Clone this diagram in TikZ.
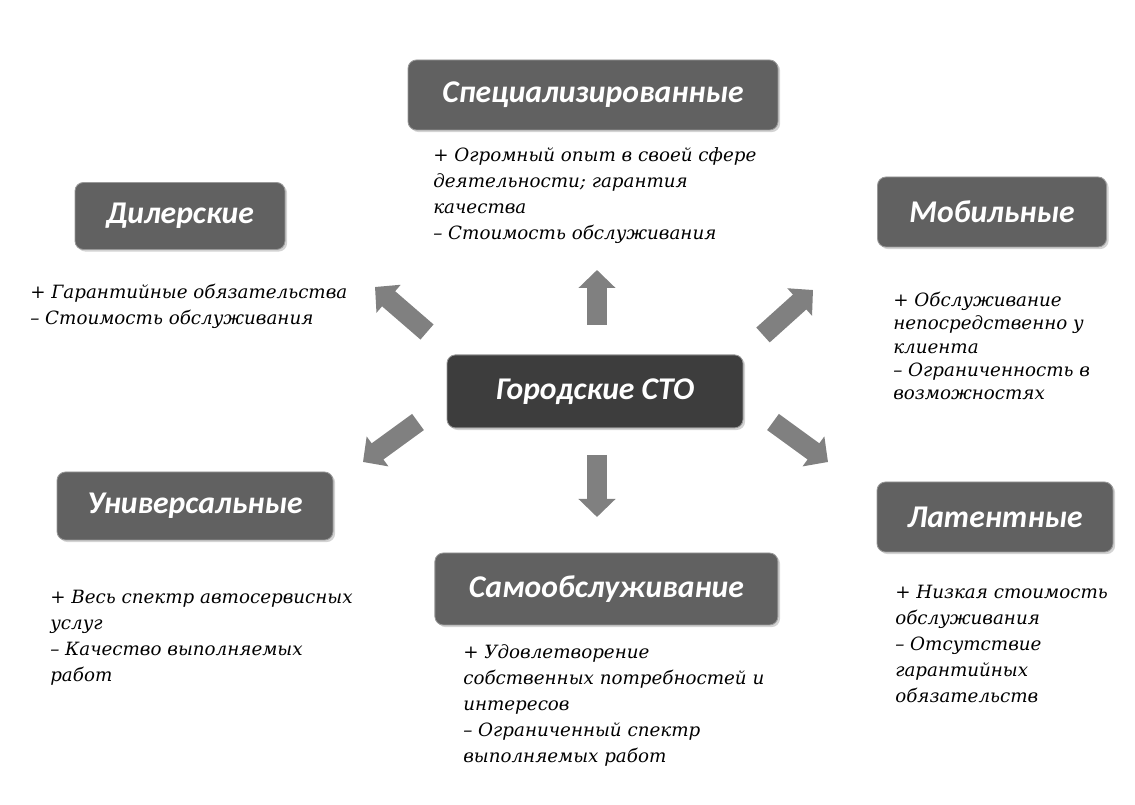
\documentclass[tikz,border=0pt]{standalone}
\usepackage{fontspec}
\setmainfont{DejaVu Serif}
\newfontfamily\boxfont{Carlito}
\usetikzlibrary{arrows.meta,shadows}

\tikzset{
  kind/.style={rectangle, rounded corners=6pt, fill=black!62, draw=black!40, line width=0.6pt,
    drop shadow={opacity=0.35, shadow xshift=1.5pt, shadow yshift=-1.5pt},
    text=white, font=\boxfont\bfseries\itshape\fontsize{22.5}{26}\selectfont, minimum height=1.75cm},
  main/.style={kind, fill=black!76},
  note/.style={anchor=north west, inner sep=0pt, align=left, font=\itshape\fontsize{13}{18.5}\selectfont},
  fat/.style={line width=0.5cm, draw=black!50, -{Triangle[width=0.9cm,length=0.45cm]}}
}

\begin{document}
\begin{tikzpicture}
\useasboundingbox (0,0) rectangle (28.375,20.125);

% boxes
\node[main, minimum width=7.4cm, minimum height=1.825cm] (city) at (14.875,10.34) {Городские СТО};
\node[kind, minimum width=9.25cm] (spec) at (14.825,17.75) {Специализированные};
\node[kind, minimum width=5.25cm, minimum height=1.675cm] (dealer) at (4.5,14.725) {Дилерские};
\node[kind, minimum width=5.725cm] (mobile) at (24.8,14.825) {Мобильные};
\node[kind, minimum width=6.9cm, minimum height=1.7cm] (univ) at (4.875,7.475) {Универсальные};
\node[kind, minimum width=8.575cm, minimum height=1.8cm] (self) at (15.16,5.4) {Самообслуживание};
\node[kind, minimum width=5.9cm] (latent) at (24.875,7.2) {Латентные};

% pluses and minuses
\node[note] (specnote) at (10.825,16.45) {+ Огромный опыт в своей сфере\\деятельности; гарантия\\качества\\-- Стоимость обслуживания};
\node[note] (dealernote) at (0.75,13.025) {+ Гарантийные обязательства\\-- Стоимость обслуживания};
\node[note, font=\itshape\fontsize{13}{16.5}\selectfont] (mobilenote) at (22.325,12.825) {+ Обслуживание\\непосредственно у\\клиента\\-- Ограниченность в\\возможностях};
\node[note] (univnote) at (1.25,5.375) {+ Весь спектр автосервисных\\услуг\\-- Качество выполняемых\\работ};
\node[note] (selfnote) at (11.575,4.025) {+ Удовлетворение\\собственных потребностей и\\интересов\\-- Ограниченный спектр\\выполняемых работ};
\node[note] (latentnote) at (22.375,5.5) {+ Низкая стоимость\\обслуживания\\-- Отсутствие\\гарантийных\\обязательств};

% arrows
\coordinate (upA) at (14.925,12.0);
\coordinate (upB) at (14.925,13.375);
\coordinate (nwA) at (10.675,11.825);
\coordinate (nwB) at (9.375,12.95);
\coordinate (neA) at (19.075,11.75);
\coordinate (neB) at (20.325,12.875);
\coordinate (swA) at (10.45,9.575);
\coordinate (swB) at (9.075,8.575);
\coordinate (seA) at (19.325,9.575);
\coordinate (seB) at (20.7,8.575);
\coordinate (dnA) at (14.925,8.75);
\coordinate (dnB) at (14.925,7.2);
\draw[fat] (upA) -- (upB);
\draw[fat] (nwA) -- (nwB);
\draw[fat] (neA) -- (neB);
\draw[fat] (swA) -- (swB);
\draw[fat] (seA) -- (seB);
\draw[fat] (dnA) -- (dnB);
\end{tikzpicture}
\end{document}
